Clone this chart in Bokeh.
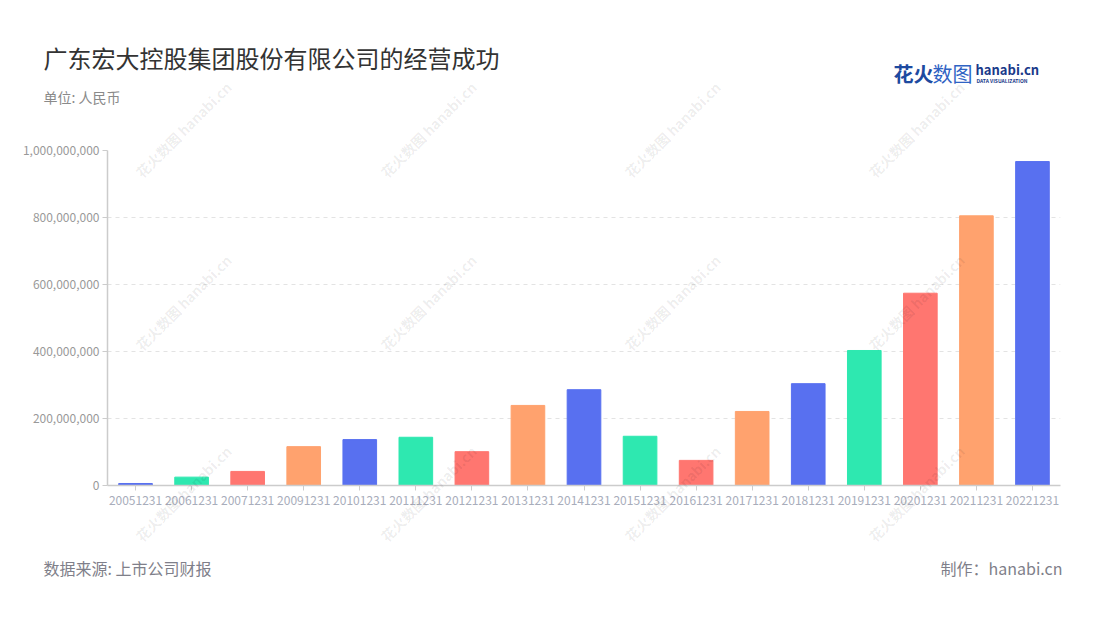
import math
from bokeh.plotting import figure
from bokeh.models import (Label, NumeralTickFormatter, FixedTicker, ColumnDataSource,
                          Range1d, GridBox)
from bokeh.embed import file_html
from bokeh.resources import INLINE

categories = ["20051231", "20061231", "20071231", "20091231", "20101231", "20111231",
              "20121231", "20131231", "20141231", "20151231", "20161231", "20171231",
              "20181231", "20191231", "20201231", "20211231", "20221231"]
values = [6000000, 25000000, 42000000, 116000000, 137000000, 144000000,
          101000000, 239000000, 286000000, 147000000, 75000000, 221000000,
          304000000, 403000000, 574000000, 805000000, 967000000]
palette = ["#5870F0", "#2EE8B0", "#FF7670", "#FFA26E"]
y_ticks = [0, 200000000, 400000000, 600000000, 800000000, 1000000000]

title_text = "广东宏大控股集团股份有限公司的经营成功"
subtitle_text = "单位: 人民币"
source_text = "数据来源: 上市公司财报"
maker_text = "制作：hanabi.cn"
watermark_text = "花火数图 hanabi.cn"

FONT = "Noto Sans CJK SC"
W, H = 1090, 610
FRAME_L, FRAME_R, FRAME_T, FRAME_B = 107, 1060, 150, 485

wm_cols = [183, 428, 672, 916]
wm_rows = [129, 302, 493]

# main chart
colors = [palette[i % len(palette)] for i in range(len(categories))]
src = ColumnDataSource(dict(x=categories, top=values, color=colors))

p = figure(width=W, height=H, x_range=categories, y_range=Range1d(0, 1000000000),
           output_backend="svg", toolbar_location=None, frame_align=False,
           min_border_left=FRAME_L, min_border_right=W - FRAME_R,
           min_border_top=FRAME_T, min_border_bottom=H - FRAME_B)
p.outline_line_color = None

p.vbar(x="x", top="top", width=0.6, color="color", source=src)

p.xgrid.grid_line_color = None
p.ygrid.grid_line_color = "#e3e3e3"
p.ygrid.grid_line_dash = "4 4"
p.ygrid.ticker = FixedTicker(ticks=y_ticks)

p.yaxis.ticker = FixedTicker(ticks=y_ticks)
p.yaxis.formatter = NumeralTickFormatter(format="0,0")
p.yaxis.axis_line_color = "#cccccc"
p.yaxis.axis_line_width = 1.5
p.yaxis.major_tick_line_color = "#cccccc"
p.yaxis.major_tick_out = 5
p.yaxis.major_tick_in = 0
p.yaxis.minor_tick_line_color = None
p.yaxis.major_label_standoff = 3
p.yaxis.major_label_text_color = "#999999"
p.yaxis.major_label_text_font = FONT
p.yaxis.major_label_text_font_size = "12px"

p.xaxis.axis_line_color = "#cccccc"
p.xaxis.axis_line_width = 1.5
p.xaxis.major_tick_line_color = "#cccccc"
p.xaxis.major_tick_out = 5
p.xaxis.major_tick_in = 0
p.xaxis.major_label_text_color = "#a8adbb"
p.xaxis.major_label_text_font = FONT
p.xaxis.major_label_text_font_size = "12px"
p.xaxis.major_label_standoff = 5

# transparent full-canvas overlay carrying titles, footer, logo and watermarks
ov = figure(width=W, height=H, x_range=Range1d(0, W), y_range=Range1d(H, 0),
            x_axis_type=None, y_axis_type=None, output_backend="svg",
            toolbar_location=None, min_border=0, frame_align=False)
ov.outline_line_color = None
ov.background_fill_alpha = 0
ov.border_fill_alpha = 0


def lab(x, y, text, size, color, align="left", bold=False, angle=0.0, alpha=1.0):
    ov.add_layout(Label(x=x, y=y, text=text, text_font=FONT, text_font_size=size,
                        text_color=color, text_align=align, text_baseline="middle",
                        angle=angle, text_alpha=alpha,
                        text_font_style="bold" if bold else "normal"))


for cx in wm_cols:
    for cy in wm_rows:
        lab(cx, cy, watermark_text, "14px", "#000000", align="center", bold=True,
            angle=math.pi / 4, alpha=0.08)

lab(43, 57, title_text, "24px", "#333333")
lab(43, 96, subtitle_text, "14px", "#8a8a8a")
lab(893, 73, "花火", "20px", "#1d4aa0", bold=True)
lab(932, 73, "数图", "20px", "#2f63c4")
lab(975, 69, "hanabi.cn", "13px", "#1a3a8a", bold=True)
lab(976, 80, "DATA VISUALIZATION", "5px", "#1a3a8a", bold=True)
lab(43, 567, source_text, "16px", "#7f7f8a")
lab(1062, 567, maker_text, "16px", "#7f7f8a", align="right")

layout = GridBox(children=[(p, 0, 0), (ov, 0, 0)])
open("out.html", "w").write(file_html(layout, INLINE))
